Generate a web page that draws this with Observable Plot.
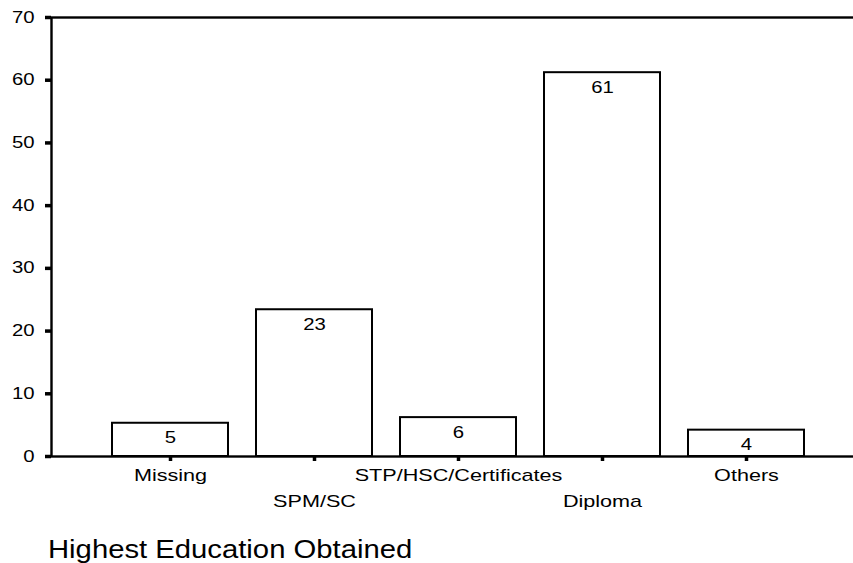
<!DOCTYPE html>
<html>
<head>
<meta charset="utf-8">
<script src="https://cdn.jsdelivr.net/npm/d3@7"></script>
<script src="https://cdn.jsdelivr.net/npm/@observablehq/plot@0.6"></script>
<style>
  html, body { margin: 0; padding: 0; background: #fff; }
  body { font-family: "Liberation Sans", Arial, Helvetica, sans-serif; }
  #wrap { position: relative; width: 853px; height: 563px; overflow: hidden; background: #fff; }
  #title { position: absolute; left: 48px; top: 537px; font-size: 25px; line-height: 25px;
           transform: scaleX(1.17); transform-origin: 0 0; white-space: nowrap; color: #000; }
</style>
</head>
<body>
<div id="wrap">
  <div id="chart"></div>
  <div id="title"></div>
</div>
<script>
// ---- data ----
const categories = ["Missing", "SPM/SC", "STP/HSC/Certificates", "Diploma", "Others"];
const percents = [5.3, 23.4, 6.2, 61.2, 4.2];
const yTicks = [0, 10, 20, 30, 40, 50, 60, 70];
const titleText = "Highest Education Obtained";

const data = categories.map((c, i) => ({category: c, value: percents[i]}));
const upperRow = categories.filter((_, i) => i % 2 === 0);
const lowerRow = categories.filter((_, i) => i % 2 === 1);

document.getElementById("title").textContent = titleText;

const plot = Plot.plot({
  width: 853,
  height: 520,
  marginLeft: 51,
  marginRight: -12,
  marginTop: 17,
  marginBottom: 64,
  style: {fontFamily: '"Liberation Sans", Arial, Helvetica, sans-serif', fontSize: "16px", background: "white", color: "black"},
  x: {type: "band", domain: categories, paddingInner: 0.195, paddingOuter: 0.42, axis: null, label: null},
  y: {domain: [0, 70], axis: null, label: null},
  marks: [
    Plot.barY(data, {x: "category", y: "value", fill: "white", stroke: "black", strokeWidth: 2}),
    Plot.text(data, {x: "category", y: "value", text: d => d3.format(".0f")(d.value), dy: 15, fontSize: 16, fill: "black"}),
    Plot.frame({stroke: "black", strokeWidth: 2.4}),
    Plot.axisY({ticks: yTicks, tickSize: 6, tickPadding: 11, strokeWidth: 3.5, fontSize: 16, label: null}),
    Plot.axisX({ticks: categories, tickSize: 5, strokeWidth: 3.5, tickFormat: () => "", label: null}),
    Plot.axisX(upperRow, {tickSize: 0, tickPadding: 12, fontSize: 17, label: null}),
    Plot.axisX(lowerRow, {tickSize: 0, tickPadding: 38, fontSize: 17, label: null})
  ]
});

document.getElementById("chart").append(plot);

// widen glyphs horizontally like the reference rendering
plot.querySelectorAll("text").forEach(t => {
  const len = t.getComputedTextLength();
  if (len > 0) {
    t.setAttribute("textLength", (len * 1.27).toFixed(1));
    t.setAttribute("lengthAdjust", "spacingAndGlyphs");
  }
});
</script>
</body>
</html>
